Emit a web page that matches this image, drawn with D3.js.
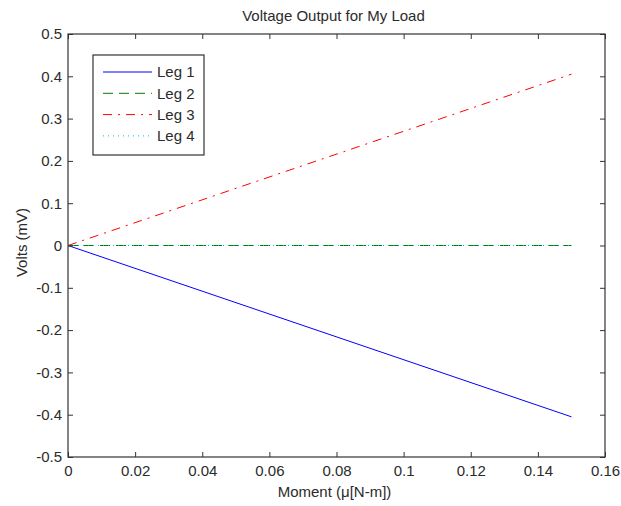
<!DOCTYPE html>
<html>
<head>
<meta charset="utf-8">
<script src="https://cdn.jsdelivr.net/npm/d3@7"></script>
<style>
  body { margin: 0; background: #fff; }
  svg text { font-family: Arial, "Liberation Sans", sans-serif; fill: #2b2b2b; }
</style>
</head>
<body>
<div id="chart-container"></div>
<script>
// data
const moment = [0, 0.15];
const leg1 = [0, -0.405];
const leg2 = [0, 0];
const leg3 = [0, 0.405];
const leg4 = [0, 0];
const seriesNames = ["Leg 1", "Leg 2", "Leg 3", "Leg 4"];
const xTicks = [0, 0.02, 0.04, 0.06, 0.08, 0.1, 0.12, 0.14, 0.16];
const xTickLabels = ["0", "0.02", "0.04", "0.06", "0.08", "0.1", "0.12", "0.14", "0.16"];
const yTicks = [-0.5, -0.4, -0.3, -0.2, -0.1, 0, 0.1, 0.2, 0.3, 0.4, 0.5];
const yTickLabels = ["-0.5", "-0.4", "-0.3", "-0.2", "-0.1", "0", "0.1", "0.2", "0.3", "0.4", "0.5"];

const svgW = 621;
const svgH = 506;
const plotL = 68, plotR = 605, plotT = 34, plotB = 457;
const axisColor = "#333";

const styles = [
    { color: "#0000ff", dash: null },
    { color: "#008000", dash: "10,6" },
    { color: "#ff0000", dash: "9,6,2,6" },
    { color: "#00bfbf", dash: "1,4" }
];
const series = [leg1, leg2, leg3, leg4].map((vals, i) => ({
    name: seriesNames[i],
    points: vals.map((v, j) => [moment[j], v]),
    style: styles[i]
}));

const xScale = d3.scaleLinear().domain([0, 0.16]).range([plotL, plotR]);
const yScale = d3.scaleLinear().domain([-0.5, 0.5]).range([plotB, plotT]);

const svg = d3.select("#chart-container")
    .append("svg")
    .attr("width", svgW)
    .attr("height", svgH);

// plot lines
const line = d3.line().x(d => xScale(d[0])).y(d => yScale(d[1]));
svg.append("g")
    .selectAll("path")
    .data(series)
    .enter()
    .append("path")
    .attr("d", d => line(d.points))
    .attr("fill", "none")
    .attr("stroke", d => d.style.color)
    .attr("stroke-width", 1)
    .attr("stroke-dasharray", d => d.style.dash);

// axes, ticks pointing inward like matlab
const fmtX = (d, i) => xTickLabels[i];
const fmtY = (d, i) => yTickLabels[i];

const xAxis = svg.append("g")
    .attr("transform", `translate(0, ${plotB})`)
    .call(d3.axisBottom(xScale).tickValues(xTicks).tickFormat(fmtX)
        .tickSizeInner(-5).tickSizeOuter(0).tickPadding(8));
const xAxisTop = svg.append("g")
    .attr("transform", `translate(0, ${plotT})`)
    .call(d3.axisTop(xScale).tickValues(xTicks).tickFormat("")
        .tickSizeInner(-5).tickSizeOuter(0));
const yAxis = svg.append("g")
    .attr("transform", `translate(${plotL}, 0)`)
    .call(d3.axisLeft(yScale).tickValues(yTicks).tickFormat(fmtY)
        .tickSizeInner(-5).tickSizeOuter(0).tickPadding(6));
const yAxisRight = svg.append("g")
    .attr("transform", `translate(${plotR}, 0)`)
    .call(d3.axisRight(yScale).tickValues(yTicks).tickFormat("")
        .tickSizeInner(-5).tickSizeOuter(0));

[xAxis, xAxisTop, yAxis, yAxisRight].forEach(ax => {
    ax.select(".domain").remove();
    ax.selectAll("line").attr("stroke", axisColor);
    ax.selectAll("text")
        .style("font-size", "15px")
        .style("font-family", "Arial, 'Liberation Sans', sans-serif")
        .attr("fill", "#2b2b2b");
});

// box
svg.append("rect")
    .attr("x", plotL)
    .attr("y", plotT)
    .attr("width", plotR - plotL)
    .attr("height", plotB - plotT)
    .attr("fill", "none")
    .attr("stroke", axisColor)
    .attr("stroke-width", 1.2);

// title and axis labels
svg.append("text")
    .text("Voltage Output for My Load")
    .attr("x", (plotL + plotR) / 2 - 3)
    .attr("y", 21)
    .style("text-anchor", "middle")
    .style("font-size", "15px");

svg.append("text")
    .text("Moment (\u03bc[N-m])")
    .attr("x", (plotL + plotR) / 2 - 2)
    .attr("y", 497)
    .style("text-anchor", "middle")
    .style("font-size", "15px");

svg.append("text")
    .text("Volts (mV)")
    .attr("transform", `translate(27, ${(plotT + plotB) / 2 - 3}) rotate(-90)`)
    .style("text-anchor", "middle")
    .style("font-size", "15px");

// legend
const legend = svg.append("g")
    .attr("id", "legend")
    .attr("transform", "translate(93, 55)");

legend.append("rect")
    .attr("width", 111)
    .attr("height", 100)
    .attr("fill", "#fff")
    .attr("stroke", axisColor)
    .attr("stroke-width", 1.2);

const items = legend.selectAll("g.item")
    .data(series)
    .enter()
    .append("g")
    .attr("class", "item")
    .attr("transform", (_, i) => `translate(0, ${17 + i * 21.3})`);

items.append("line")
    .attr("x1", 10)
    .attr("x2", 59)
    .attr("stroke", d => d.style.color)
    .attr("stroke-width", 1)
    .attr("stroke-dasharray", d => d.style.dash);

items.append("text")
    .text(d => d.name)
    .attr("x", 64)
    .attr("dy", "0.35em")
    .style("font-size", "15px");
</script>
</body>
</html>
